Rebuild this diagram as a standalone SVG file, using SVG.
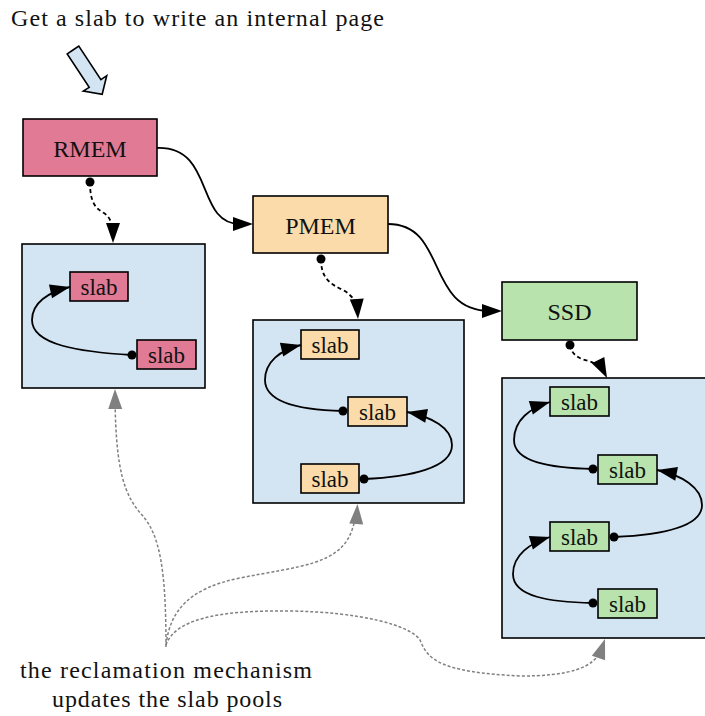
<svg xmlns="http://www.w3.org/2000/svg" width="705" height="716" viewBox="0 0 705 716">
  <style>
    .t { font-family: 'Liberation Serif', 'Times New Roman', serif; fill: #111; }
    .tier { stroke: #000; stroke-width: 1.6; }
    .pool { fill: #d3e4f3; stroke: #000; stroke-width: 1.6; }
    .rmem { fill: #e07a95; }
    .pmem { fill: #fadba9; }
    .ssd { fill: #b8e3ac; }
    .slab { stroke: #000; stroke-width: 1.6; }
    .flow { fill: none; stroke: #000; stroke-width: 1.8; }
    .ptr { fill: none; stroke: #000; stroke-width: 1.8; stroke-dasharray: 4 3; }
    .recl { fill: none; stroke: #808080; stroke-width: 1.5; stroke-dasharray: 3 2; }
    .ah { fill: #000; }
    .ahg { fill: #808080; }
    .dot { fill: #000; }
  </style>

  <!-- caption and entry arrow -->
  <text x="11" y="26" class="t" font-family="Liberation Serif, serif" font-size="24" textLength="373" lengthAdjust="spacing">Get a slab to write an internal page</text>
  <path d="M73.0,50.0 L67.2,53.9 L89.2,87.3 L83.3,91.1 L102.2,94.3 L106.7,75.7 L100.9,79.6 L78.8,46.1 Z" fill="#d3e4f3" stroke="#000" stroke-width="1.6" stroke-linejoin="miter"/>

  <!-- storage tiers -->
  <g id="rmem">
    <rect x="23" y="119" width="134" height="57" class="tier rmem"/>
    <text x="90" y="157" class="t" font-family="Liberation Serif, serif" font-size="24" text-anchor="middle">RMEM</text>
  </g>
  <g id="pmem">
    <rect x="253" y="196" width="135" height="57" class="tier pmem"/>
    <text x="320.5" y="234" class="t" font-family="Liberation Serif, serif" font-size="24" text-anchor="middle">PMEM</text>
  </g>
  <g id="ssd">
    <rect x="502" y="282" width="135" height="58" class="tier ssd"/>
    <text x="569.5" y="320" class="t" font-family="Liberation Serif, serif" font-size="24" text-anchor="middle">SSD</text>
  </g>

  <!-- slab pools -->
  <g id="rmem-pool">
    <rect x="22" y="244" width="183" height="144" class="pool"/>
    <g id="rmem-slab-1">
      <rect x="70" y="272" width="58" height="29" class="slab rmem"/>
      <text x="99" y="295" class="t" font-family="Liberation Serif, serif" font-size="23" text-anchor="middle">slab</text>
    </g>
    <g id="rmem-slab-2">
      <rect x="137" y="340" width="59" height="29" class="slab rmem"/>
      <text x="166.5" y="363" class="t" font-family="Liberation Serif, serif" font-size="23" text-anchor="middle">slab</text>
    </g>
  </g>

  <g id="pmem-pool">
    <rect x="253" y="320" width="211" height="183" class="pool"/>
    <g id="pmem-slab-1">
      <rect x="301" y="330" width="58" height="29" class="slab pmem"/>
      <text x="330" y="353" class="t" font-family="Liberation Serif, serif" font-size="23" text-anchor="middle">slab</text>
    </g>
    <g id="pmem-slab-2">
      <rect x="348" y="397" width="59" height="29" class="slab pmem"/>
      <text x="377.5" y="420" class="t" font-family="Liberation Serif, serif" font-size="23" text-anchor="middle">slab</text>
    </g>
    <g id="pmem-slab-3">
      <rect x="301" y="464" width="58" height="29" class="slab pmem"/>
      <text x="330" y="487" class="t" font-family="Liberation Serif, serif" font-size="23" text-anchor="middle">slab</text>
    </g>
  </g>

  <g id="ssd-pool">
    <rect x="502" y="378" width="212" height="260" class="pool"/>
    <g id="ssd-slab-1">
      <rect x="550" y="387" width="59" height="29" class="slab ssd"/>
      <text x="579.5" y="410" class="t" font-family="Liberation Serif, serif" font-size="23" text-anchor="middle">slab</text>
    </g>
    <g id="ssd-slab-2">
      <rect x="598" y="455" width="59" height="29" class="slab ssd"/>
      <text x="627.5" y="478" class="t" font-family="Liberation Serif, serif" font-size="23" text-anchor="middle">slab</text>
    </g>
    <g id="ssd-slab-3">
      <rect x="550" y="522" width="59" height="29" class="slab ssd"/>
      <text x="579.5" y="545" class="t" font-family="Liberation Serif, serif" font-size="23" text-anchor="middle">slab</text>
    </g>
    <g id="ssd-slab-4">
      <rect x="598" y="589" width="59" height="29" class="slab ssd"/>
      <text x="627.5" y="612" class="t" font-family="Liberation Serif, serif" font-size="23" text-anchor="middle">slab</text>
    </g>
  </g>

  <!-- reclamation label -->
  <g id="reclamation">
    <text x="166" y="678" class="t" font-family="Liberation Serif, serif" font-size="24" text-anchor="middle" textLength="292" lengthAdjust="spacing">the reclamation mechanism</text>
    <text x="167" y="707" class="t" font-family="Liberation Serif, serif" font-size="24" text-anchor="middle" textLength="230" lengthAdjust="spacing">updates the slab pools</text>
  </g>

  <g id="connectors">
    <!-- tier fall-through -->
    <path d="M157,148 C215,146 195,224 240,224" class="flow"/>
    <path d="M388,224 C448,224 425,311 490,311" class="flow"/>

    <!-- tier to pool pointers -->
    <path d="M90,182 C90,202 95,208 104,213 C110,217 113,225 113,232" class="ptr"/>
    <path d="M321,259 C321,278 330,284 343,290 C352,295 357,303 357.5,308" class="ptr"/>
    <path d="M570,345 C572,356 580,359 589,361 C597,364 600,367 602,369" class="ptr"/>

    <!-- free lists inside pools -->
    <path d="M132,355 C80,352 32,345 32,320 C32,303 48,292 70,287" class="flow"/>
    <path d="M343,411 C300,410 265,402 265,380 C265,362 280,350 301,345" class="flow"/>
    <path d="M364,479 C410,477 452,468 452,445 C452,428 432,417 407,412" class="flow"/>
    <path d="M593,469 C550,468 514,462 514,440 C514,420 530,408 550,402" class="flow"/>
    <path d="M614,537 C660,535 702,527 702,505 C702,488 682,475 657,470" class="flow"/>
    <path d="M593,603 C550,602 513,597 513,574 C513,555 530,543 550,537" class="flow"/>

    <!-- reclamation updates -->
    <path d="M166,647 C166,570 160,535 142,515 C124,495 116,470 115,400" class="recl"/>
    <path d="M166,645 C170,610 190,588 240,578 C300,566 340,565 352,530 C355,520 357,516 357.3,512" class="recl"/>
    <path d="M166,645 C175,620 215,610 290,611 C360,612 410,625 420,640 C428,660 440,672 520,676 C570,676 595,668 602,648" class="recl"/>

    <!-- arrowheads, tip at the local origin -->
    <path d="M0,0 L-20,-7 L-20,7 Z" class="ah" transform="translate(253,224)"/>
    <path d="M0,0 L-20,-7 L-20,7 Z" class="ah" transform="translate(502,311)"/>
    <path d="M0,0 L-20,-7 L-20,7 Z" class="ah" transform="translate(113,243) rotate(90)"/>
    <path d="M0,0 L-20,-7 L-20,7 Z" class="ah" transform="translate(358,319) rotate(86.4)"/>
    <path d="M0,0 L-20,-7 L-20,7 Z" class="ah" transform="translate(607,378) rotate(63.4)"/>
    <path d="M0,0 L-20,-7 L-20,7 Z" class="ah" transform="translate(70,287) rotate(-12.8)"/>
    <path d="M0,0 L-20,-7 L-20,7 Z" class="ah" transform="translate(301,345) rotate(-13.4)"/>
    <path d="M0,0 L-20,-7 L-20,7 Z" class="ah" transform="translate(407,412) rotate(-168.7)"/>
    <path d="M0,0 L-20,-7 L-20,7 Z" class="ah" transform="translate(550,402) rotate(-16.7)"/>
    <path d="M0,0 L-20,-7 L-20,7 Z" class="ah" transform="translate(657,470) rotate(-168.7)"/>
    <path d="M0,0 L-20,-7 L-20,7 Z" class="ah" transform="translate(550,537) rotate(-16.7)"/>
    <path d="M0,0 L-20,-7 L-20,7 Z" class="ahg" transform="translate(115,389) rotate(-90.7)"/>
    <path d="M0,0 L-20,-7 L-20,7 Z" class="ahg" transform="translate(357.5,504) rotate(-86.4)"/>
    <path d="M0,0 L-20,-7 L-20,7 Z" class="ahg" transform="translate(605,639) rotate(-71)"/>

    <!-- start dots -->
    <circle cx="90" cy="182" r="4.5" class="dot"/>
    <circle cx="321" cy="259" r="4.5" class="dot"/>
    <circle cx="570" cy="345" r="4.5" class="dot"/>
    <circle cx="132" cy="355" r="4.5" class="dot"/>
    <circle cx="343" cy="411" r="4.5" class="dot"/>
    <circle cx="364" cy="479" r="4.5" class="dot"/>
    <circle cx="593" cy="469" r="4.5" class="dot"/>
    <circle cx="614" cy="537" r="4.5" class="dot"/>
    <circle cx="593" cy="603" r="4.5" class="dot"/>
  </g>
</svg>
